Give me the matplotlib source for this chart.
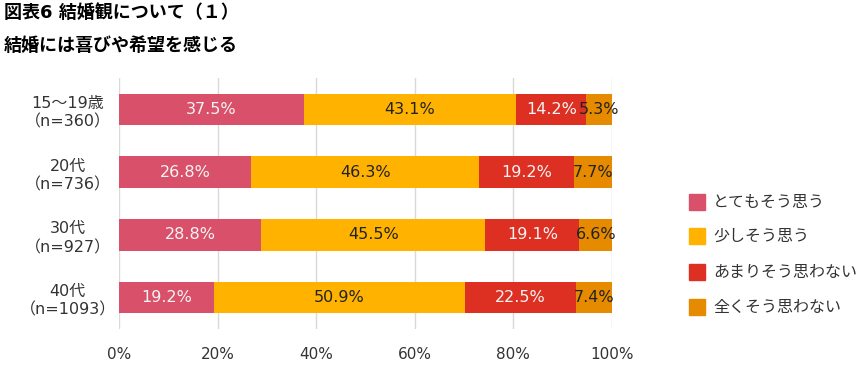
import matplotlib
matplotlib.use('Agg')
import matplotlib.pyplot as plt
from matplotlib.patches import Rectangle

plt.rcParams['font.family'] = ['DejaVu Sans', 'Noto Sans CJK JP']

# Data.
groups = ['15～19歳\n（n=360）', '20代\n（n=736）', '30代\n（n=927）', '40代\n（n=1093）']
series = ['とてもそう思う', '少しそう思う', 'あまりそう思わない', '全くそう思わない']
very = [37.5, 26.8, 28.8, 19.2]
some = [43.1, 46.3, 45.5, 50.9]
little = [14.2, 19.2, 19.1, 22.5]
never = [5.3, 7.7, 6.6, 7.4]
xticks = [0, 20, 40, 60, 80, 100]

colors = ['#D9506A', '#FFB300', '#DD3022', '#E68A00']
text_colors = ['#F4F4F4', '#222222', '#F4F4F4', '#222222']

fig = plt.figure(figsize=(8.65, 3.69), dpi=100)
ax = fig.add_axes([119 / 865, 1 - 329 / 369, 493 / 865, 251 / 369])

ypos = list(range(len(groups)))
left = [0.0] * len(groups)
for vals, name, col, tcol in zip([very, some, little, never], series, colors, text_colors):
    ax.barh(ypos, vals, left=left, height=0.5, color=col, label=name, zorder=2)
    for y, l, v in zip(ypos, left, vals):
        ax.text(l + v / 2, y, f'{v:.1f}%', ha='center', va='center',
                color=tcol, fontsize=11.5, zorder=3)
    left = [l + v for l, v in zip(left, vals)]

ax.set_xlim(0, 100)
ax.set_ylim(3.5, -0.5)
ax.set_xticks(xticks)
ax.set_xticklabels([f'{t}%' for t in xticks], fontsize=11, color='#333333')
ax.set_yticks(ypos)
ax.set_yticklabels(groups, fontsize=11.5, color='#333333', linespacing=1.3,
                   ha='center')
ax.tick_params(axis='y', length=0, pad=37)
ax.tick_params(axis='x', length=0, pad=13)
ax.grid(axis='x', color='#D9D9D9', linewidth=1, zorder=0)
for s in ax.spines.values():
    s.set_visible(False)

# Legend drawn as squares + labels on the right.
leg_y = [202, 236, 272, 307]
for name, col, yy in zip(series, colors, leg_y):
    fig.patches.append(Rectangle((689 / 865, 1 - (yy + 8) / 369), 16 / 865, 16 / 369,
                                 transform=fig.transFigure, color=col))
    fig.text(713 / 865, 1 - yy / 369, name, fontsize=11.5, color='#333333',
             va='center', ha='left')

fig.text(4 / 865, 1 - 13 / 369, '図表6 結婚観について（１）', fontsize=13,
         fontweight='bold', va='center', ha='left')
fig.text(4 / 865, 1 - 46 / 369, '結婚には喜びや希望を感じる', fontsize=13,
         fontweight='bold', va='center', ha='left')

fig.savefig('out.png', dpi=100)
